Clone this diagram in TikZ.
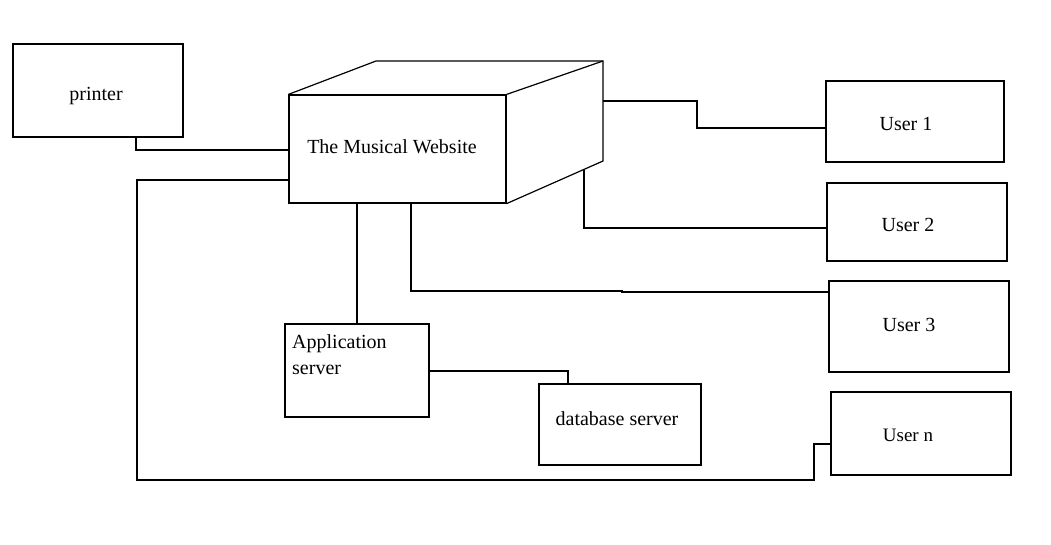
\documentclass[tikz,border=0pt]{standalone}
\usepackage{fontspec}
\setmainfont{Liberation Serif}
\begin{document}
\begin{tikzpicture}[x=1pt,y=-1pt,
  box/.style={draw, line width=1.2pt, inner sep=0pt},
  txt/.style={inner sep=0pt, font=\fontsize{20}{26}\selectfont},
  wire/.style={line width=1.2pt}]
\useasboundingbox (0,0) rectangle (1051,544);
% boxes
\node[box, minimum width=170pt, minimum height=93pt] (printer) at (98,90.5) {};
\node[txt] (printert) at (96,96) {printer};
\node[box, minimum width=217pt, minimum height=108pt] (web) at (397.5,149) {};
\node[txt] (webt) at (392,147) {The Musical Website};
\coordinate (btl) at (376,61);
\coordinate (btr) at (603,61);
\coordinate (bbr) at (603,161);
\draw[wire] (web.north west) -- (btl) -- (btr) -- (bbr) -- (web.south east);
\draw[wire] (web.north east) -- (btr);
\node[box, minimum width=178pt, minimum height=81pt] (u1) at (915,121.5) {};
\node[txt] (u1t) at (906,124) {User 1};
\node[box, minimum width=180pt, minimum height=78pt] (u2) at (917,222) {};
\node[txt] (u2t) at (908,225) {User 2};
\node[box, minimum width=180pt, minimum height=91pt] (u3) at (919,326.5) {};
\node[txt] (u3t) at (909,325) {User 3};
\node[box, minimum width=180pt, minimum height=83pt] (un) at (921,433.5) {};
\node[txt, font=\fontsize{19}{22}\selectfont] (unt) at (908,435) {User n};
\node[box, minimum width=144pt, minimum height=93pt] (app) at (357,370.5) {};
\node[txt, align=left, anchor=north west] (appt) at (292,334) {Application\\server};
\node[box, minimum width=162pt, minimum height=81pt] (db) at (620,424.5) {};
\node[txt] (dbt) at (617,419) {database server};
% connectors
\draw[wire] (printer.south -| 136,0) -- (136,150) -- (web.west |- 0,150);
\draw[wire] (web.west |- 0,180) -- (137,180) -- (137,480) -- (814,480) -- (814,444) -- (un.west |- 0,444);
\draw[wire] (603,101) -- (697,101) -- (697,128) -- (u1.west |- 0,128);
\draw[wire] (584,170) -- (584,228) -- (u2.west |- 0,228);
\draw[wire] (web.south -| 411,0) -- (411,291) -- (622,291) -- (622,292) -- (u3.west |- 0,292);
\draw[wire] (web.south -| 357,0) -- (app.north);
\draw[wire] (app.east |- 0,371) -- (568,371) -- (db.north -| 568,0);
\end{tikzpicture}
\end{document}
